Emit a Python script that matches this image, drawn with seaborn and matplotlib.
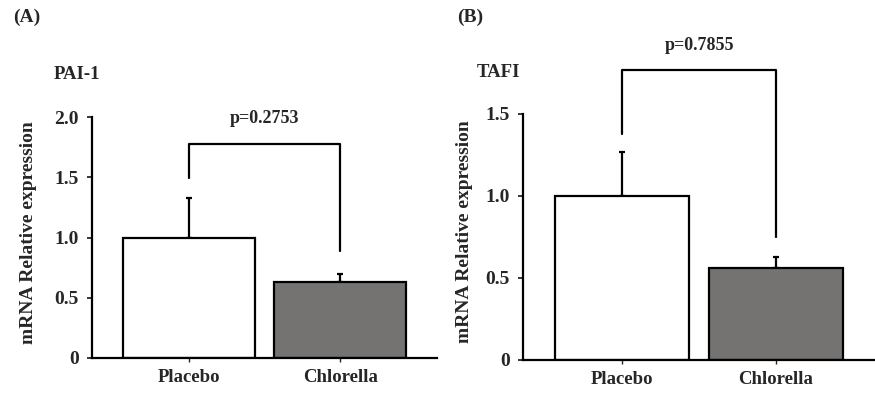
import matplotlib
matplotlib.use("Agg")
import matplotlib.pyplot as plt
import seaborn as sns
import pandas as pd

# values
groups = ["Placebo", "Chlorella"]
pai1_mean = [1.0, 0.63]
pai1_err = [0.33, 0.07]
tafi_mean = [1.0, 0.56]
tafi_err = [0.27, 0.07]
p_values = ["p=0.2753", "p=0.7855"]
bracket_top = [1.78, 1.77]
bracket_legs = [(1.49, 0.89), (1.38, 0.75)]
bar_colors = ["#ffffff", "#767171"]

sns.set_style("white")
plt.rcParams["font.family"] = ["Liberation Serif", "DejaVu Serif"]
plt.rcParams["font.weight"] = "bold"

fig = plt.figure(figsize=(8.75, 3.94), dpi=100)
ax_a = fig.add_axes([0.105, 0.0914, 0.3944, 0.6116])
ax_b = fig.add_axes([0.598, 0.0863, 0.401, 0.6244])

panels = [
    (ax_a, pai1_mean, pai1_err, (0, 2.0), [0, 0.5, 1.0, 1.5, 2.0], -0.16),
    (ax_b, tafi_mean, tafi_err, (0, 1.5), [0, 0.5, 1.0, 1.5], -0.142),
]

for i, (ax, means, errs, ylim, yticks, label_x) in enumerate(panels):
    df = pd.DataFrame({"group": groups, "value": means})
    sns.barplot(data=df, x="group", y="value", hue="group", palette=bar_colors,
                edgecolor="black", linewidth=1.6, width=0.875, legend=False, ax=ax,
                zorder=2)
    ax.errorbar(range(len(groups)), means, yerr=[[0] * len(errs), errs],
                fmt="none", ecolor="black", elinewidth=1.6, capsize=2.5,
                capthick=1.6, zorder=1)
    ax.set_xlim(-0.645, 1.64)
    ax.set_ylim(*ylim)
    ax.set_yticks(yticks)
    ax.set_yticklabels(["0" if t == 0 else f"{t:.1f}" for t in yticks])
    ax.set_xlabel("")
    ax.set_ylabel("mRNA Relative expression", fontsize=14, fontweight="bold")
    ax.yaxis.set_label_coords(label_x, 0.52)
    for s in ["top", "right"]:
        ax.spines[s].set_visible(False)
    for s in ["left", "bottom"]:
        ax.spines[s].set_linewidth(1.6)
        ax.spines[s].set_color("black")
    ax.tick_params(axis="y", direction="out", length=3.5, width=1.3, labelsize=14,
                   left=True, pad=6)
    ax.tick_params(axis="x", direction="out", length=3, width=1, labelsize=13.5,
                   bottom=True, pad=5)
    for lab in ax.get_xticklabels() + ax.get_yticklabels():
        lab.set_fontweight("bold")

    # significance bracket
    top = bracket_top[i]
    l0, l1 = bracket_legs[i]
    ax.plot([0, 0, 1, 1], [l0, top, top, l1], color="black", lw=1.6,
            clip_on=False)
    ax.text(0.5, top + (0.21 if i == 0 else 0.15), p_values[i], ha="center",
            va="center", fontsize=13, fontweight="bold", clip_on=False)

fig.text(0.061, 0.81, "PAI-1", fontsize=13.5, fontweight="bold", va="center")
fig.text(0.545, 0.815, "TAFI", fontsize=13.5, fontweight="bold", va="center")
fig.text(0.015, 0.955, "(A)", fontsize=14, fontweight="bold", va="center")
fig.text(0.522, 0.955, "(B)", fontsize=14, fontweight="bold", va="center")

fig.savefig("out.png", dpi=100, facecolor="white")
